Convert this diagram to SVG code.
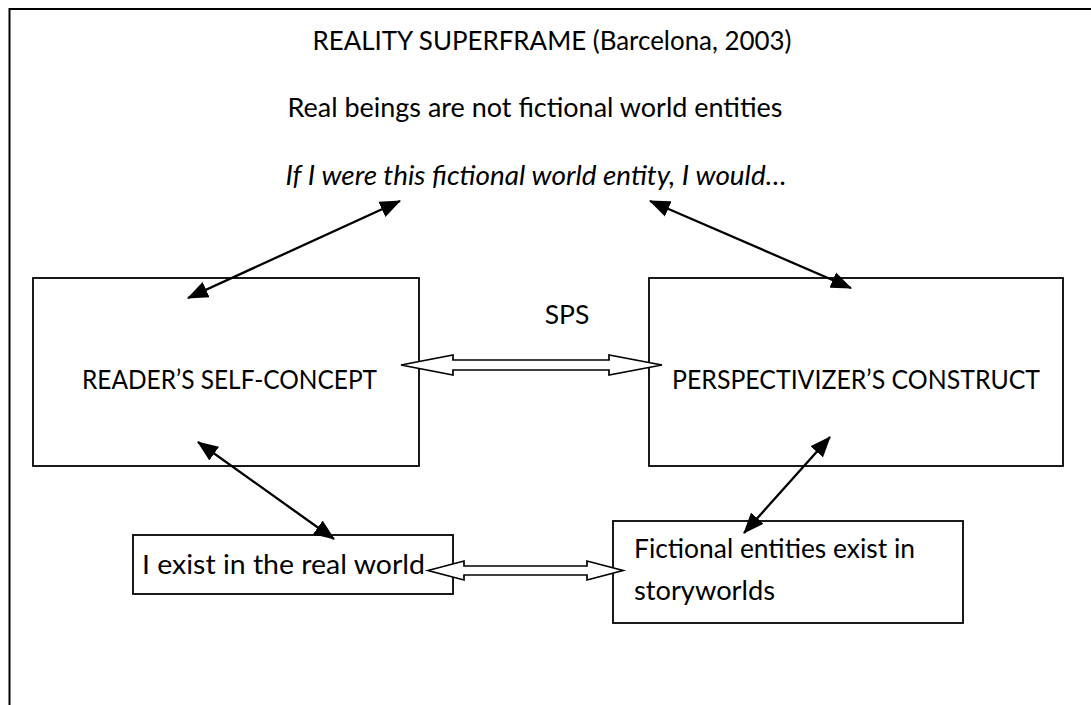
<svg xmlns="http://www.w3.org/2000/svg" width="1091" height="705" viewBox="0 0 1091 705">
<style>
text{font-family:Lato,"Open Sans","Liberation Sans",sans-serif;font-size:26.5px;fill:#000}
.it{font-style:italic}
.box{fill:#fff;stroke:#000;stroke-width:1.8}
.frame{fill:none;stroke:#000;stroke-width:2}
.arr{fill:none;stroke:#000;stroke-width:2.3;marker-start:url(#ah);marker-end:url(#ah)}
.hol{fill:#fff;stroke:#000;stroke-width:1.7;stroke-linejoin:miter}
</style>
<defs>
<marker id="ah" markerUnits="userSpaceOnUse" markerWidth="22" markerHeight="18" refX="19" refY="8" orient="auto-start-reverse" viewBox="0 0 21 16">
<path d="M0,0 L20,8 L0,16 Z" fill="#000"/>
</marker>
</defs>
<rect width="1091" height="705" fill="#fff"/>
<path class="frame" d="M9.5,705 V9 H1091"/>
<g id="header">
<text x="552" y="50" text-anchor="middle" textLength="479" lengthAdjust="spacingAndGlyphs">REALITY SUPERFRAME (Barcelona, 2003)</text>
<text x="535" y="117" text-anchor="middle" textLength="495" lengthAdjust="spacingAndGlyphs">Real beings are not fictional world entities</text>
<text class="it" x="536" y="185" text-anchor="middle" textLength="501" lengthAdjust="spacingAndGlyphs">If I were this fictional world entity, I would…</text>
</g>
<g id="reader">
<rect class="box" x="33" y="278" width="386" height="188"/>
<text x="229.5" y="389" text-anchor="middle" textLength="295" lengthAdjust="spacingAndGlyphs">READER’S SELF-CONCEPT</text>
</g>
<g id="perspectivizer">
<rect class="box" x="649" y="278" width="414" height="188"/>
<text x="856" y="389" text-anchor="middle" textLength="368" lengthAdjust="spacingAndGlyphs">PERSPECTIVIZER’S CONSTRUCT</text>
</g>
<g id="sps">
<text x="567" y="324" text-anchor="middle">SPS</text>
</g>
<g id="real-world">
<rect class="box" x="133" y="535" width="320" height="59"/>
<text x="142" y="574" textLength="283" lengthAdjust="spacingAndGlyphs">I exist in the real world</text>
</g>
<g id="storyworlds">
<rect class="box" x="613" y="521" width="350" height="102"/>
<text x="634" y="558" textLength="281" lengthAdjust="spacingAndGlyphs">Fictional entities exist in</text>
<text x="634" y="600" textLength="141" lengthAdjust="spacingAndGlyphs">storyworlds</text>
</g>
<g id="connectors">
<line class="arr" x1="188" y1="298" x2="400" y2="201"/>
<line class="arr" x1="650" y1="201" x2="851" y2="288"/>
<line class="arr" x1="198" y1="442" x2="334" y2="539"/>
<line class="arr" x1="744" y1="533" x2="830" y2="437"/>
<path class="hol" d="M401,365 L453,355 L453,360 L609,360 L609,355 L662,365 L609,375 L609,370 L453,370 L453,375 Z"/>
<path class="hol" d="M428,570.5 L464,561 L464,566 L587,566 L587,561 L623,570.5 L587,580 L587,575 L464,575 L464,580 Z"/>
</g>
</svg>
